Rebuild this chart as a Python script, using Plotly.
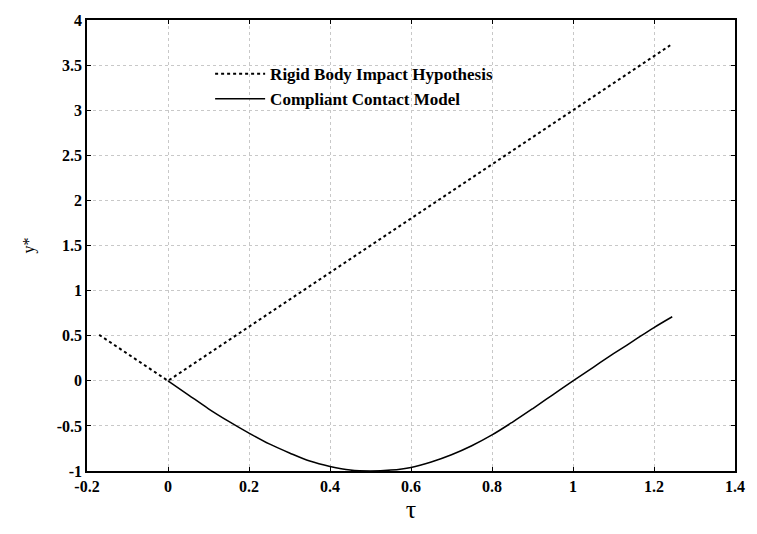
import plotly.graph_objects as go

# Rigid body impact hypothesis (dotted)
rigid_tau = [-0.17, 0.0, 1.24]
rigid_y = [0.51, 0.0, 3.72]

# Compliant contact model (solid)
compliant_tau = [0.0, 0.05, 0.1, 0.15, 0.2, 0.25, 0.3, 0.35, 0.4, 0.45, 0.5, 0.55,
                 0.6, 0.65, 0.7, 0.75, 0.8, 0.85, 0.9, 0.95, 1.0, 1.05, 1.1, 1.15,
                 1.2, 1.245]
compliant_y = [0.0, -0.155, -0.31, -0.45, -0.58, -0.70, -0.80, -0.89, -0.95, -0.99,
               -1.0, -0.99, -0.96, -0.90, -0.82, -0.72, -0.60, -0.46, -0.31, -0.155,
               0.0, 0.15, 0.30, 0.445, 0.59, 0.71]

x_ticks = [-0.2, 0, 0.2, 0.4, 0.6, 0.8, 1.0, 1.2, 1.4]
x_labels = ["-0.2", "0", "0.2", "0.4", "0.6", "0.8", "1", "1.2", "1.4"]
y_ticks = [-1, -0.5, 0, 0.5, 1, 1.5, 2, 2.5, 3, 3.5, 4]
y_labels = ["-1", "-0.5", "0", "0.5", "1", "1.5", "2", "2.5", "3", "3.5", "4"]

font_family = "Liberation Serif"

fig = go.Figure()
fig.add_trace(go.Scatter(
    x=rigid_tau, y=rigid_y, mode="lines",
    name="<b>Rigid Body Impact Hypothesis</b>",
    line=dict(color="black", width=2, dash="dot"),
))
fig.add_trace(go.Scatter(
    x=compliant_tau, y=compliant_y, mode="lines",
    name="<b>Compliant Contact Model</b>",
    line=dict(color="black", width=1.5, shape="spline"),
))

axis_common = dict(
    showline=True, linecolor="black", linewidth=1.5, mirror="ticks",
    ticks="inside", ticklen=4, tickcolor="black",
    showgrid=True, gridcolor="#c8c8c8", griddash="dot", gridwidth=1,
    zeroline=False,
    tickfont=dict(family=font_family, size=16, color="black", weight="bold"),
)

fig.update_layout(
    width=757, height=534,
    margin=dict(l=87, r=17, t=15, b=63),
    paper_bgcolor="white", plot_bgcolor="white",
    font=dict(family=font_family, color="black"),
    showlegend=True,
    legend=dict(
        x=0.19, y=0.92, xanchor="left", yanchor="top",
        bgcolor="rgba(0,0,0,0)", borderwidth=0,
        font=dict(family=font_family, size=17, color="black"),
        itemwidth=50, tracegroupgap=0,
    ),
    xaxis=dict(
        range=[-0.2, 1.4], tickvals=x_ticks, ticktext=x_labels,
        title=dict(text="τ", font=dict(family=font_family, size=26, color="black"),
                   standoff=4),
        **axis_common,
    ),
    yaxis=dict(
        range=[-1, 4], tickvals=y_ticks, ticktext=y_labels,
        title=dict(text="y*", font=dict(family=font_family, size=16, color="black"),
                   standoff=18),
        **axis_common,
    ),
)

fig.write_html("out.html")
